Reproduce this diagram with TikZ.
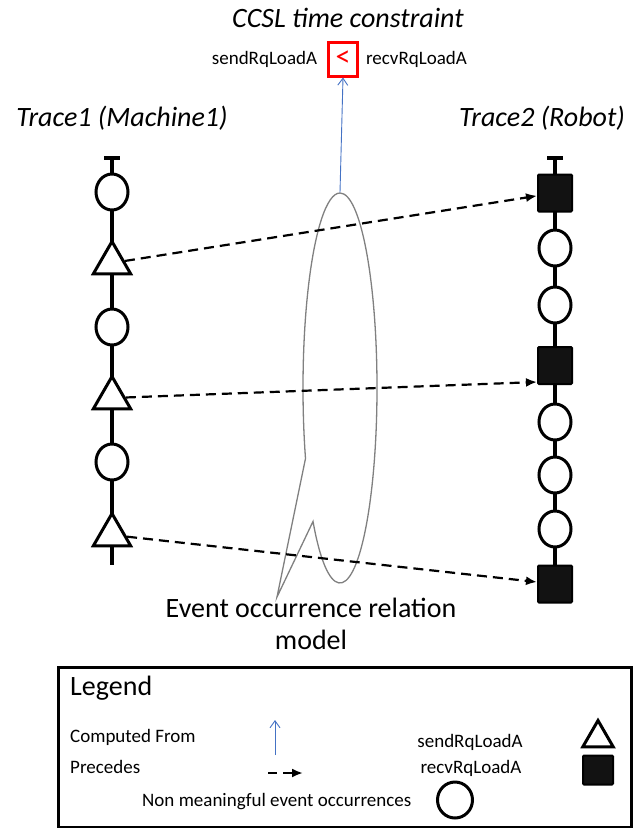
\documentclass[tikz,border=0pt]{standalone}
\usepackage{fontspec}
\setmainfont{Carlito}
\usetikzlibrary{shapes.geometric,shapes.callouts,arrows.meta,calc}
\definecolor{cfblue}{RGB}{68,114,196}
\definecolor{callgray}{RGB}{128,128,128}
\begin{document}
\begin{tikzpicture}[x=1pt,y=-1pt,
  big/.style={font=\fontsize{28}{32}\selectfont, inner sep=0pt},
  bigit/.style={font=\fontsize{28}{32}\selectfont\itshape, inner sep=0pt},
  small/.style={font=\fontsize{19}{22}\selectfont, inner sep=0pt},
  trline/.style={line width=3.5pt},
  trbar/.style={line width=4pt},
  occ/.style={ellipse, draw, line width=3pt, fill=white, minimum width=32pt, minimum height=36pt, inner sep=0pt},
  sendev/.style={regular polygon, regular polygon sides=3, draw, line width=3pt, fill=white, minimum size=43pt, inner sep=0pt},
  recvev/.style={rectangle, draw, line width=2pt, fill=black!93, minimum width=34pt, minimum height=37pt, inner sep=0pt, rounded corners=1pt},
  prec/.style={line width=2.2pt, dash pattern=on 10pt off 6pt, -{Latex[length=11pt,width=9pt]}},
  compfrom/.style={cfblue, line width=0.9pt, -{Straight Barb[length=7pt,width=10pt]}},
]
\useasboundingbox (0,0) rectangle (641,828);

% titles
\node[bigit] (ccsl) at (348,18) {CCSL time constraint};
\node[small] (sendT) at (264.5,59) {sendRqLoadA};
\node[small] (recvT) at (416.5,59) {recvRqLoadA};
\node[draw=red, line width=3pt, minimum width=29pt, minimum height=34pt, inner sep=0pt, text=red, font=\fontsize{30}{30}\selectfont] (cbox) at (343,59) {<};
\node[bigit] (tr1) at (122,118) {Trace1 (Machine1)};
\node[bigit] (tr2) at (542,118) {Trace2 (Robot)};

% left trace
\coordinate (lTop) at (112,158);
\coordinate (lBot) at (112,565);
\draw[trline] (lTop) -- (lBot);
\draw[trbar] ($(lTop)+(-8,0)$) -- ($(lTop)+(8,0)$);
\node[occ] (lc1) at (112,192) {};
\node[sendev] (lt1) at (112,263) {};
\node[occ] (lc2) at (112,327) {};
\node[sendev] (lt2) at (112,398) {};
\node[occ] (lc3) at (112,462) {};
\node[sendev] (lt3) at (112,535) {};

% right trace
\coordinate (rTop) at (555,158);
\coordinate (rBot) at (555,584);
\draw[trline] (rTop) -- (rBot);
\draw[trbar] ($(rTop)+(-8,0)$) -- ($(rTop)+(8,0)$);
\node[recvev] (rs1) at (555,193) {};
\node[occ] (rc1) at (555,248) {};
\node[occ] (rc2) at (555,305) {};
\node[recvev] (rs2) at (555,365.5) {};
\node[occ] (rc3) at (555,422) {};
\node[occ] (rc4) at (555,475) {};
\node[occ] (rc5) at (555,529) {};
\node[recvev] (rs3) at (555,584) {};

% callout
\node[ellipse callout, draw=callgray, line width=1.3pt, minimum width=74pt, minimum height=390pt, inner sep=0pt,
      callout absolute pointer={(277,597)}, callout pointer arc=22] (ell) at (340,388) {};

% precedence arrows
\draw[prec] (lt1) -- (rs1);
\draw[prec] (lt2) -- ($(rs2.south west)+(0,-3)$);
\draw[prec] (lt3) -- (rs3);

% computed-from arrow
\draw[compfrom] (ell.north) -- (cbox.south);

\node[big, align=center] (evt) at (311,624) {Event occurrence relation\\model};

% legend
\node[draw, line width=3pt, minimum width=573pt, minimum height=160pt, inner sep=0pt] (legbox) at (344.5,747) {};
\node[big, anchor=west] (legT) at (70,688) {Legend};
\node[small, anchor=west] (lgcf) at (70,737) {Computed From};
\node[small, anchor=west] (lgpr) at (70,767) {Precedes};
\coordinate (cfA) at (275,755);
\coordinate (cfB) at (275,720);
\draw[compfrom] (cfA) -- (cfB);
\coordinate (prA) at (268,773);
\coordinate (prB) at (303,773);
\draw[line width=2.2pt, dash pattern=on 9pt off 6pt, -{Latex[length=11pt,width=9pt]}] (prA) -- (prB);
\node[small] (lgsend) at (470,742) {sendRqLoadA};
\node[small] (lgrecv) at (471,768) {recvRqLoadA};
\node[sendev, minimum size=35pt] (lgtri) at (598,738) {};
\node[recvev, minimum width=30pt, minimum height=29pt] (lgsq) at (598,770) {};
\node[small, anchor=west] (lgnon) at (142,802) {Non meaningful event occurrences};
\node[occ, minimum width=35pt, minimum height=36pt] (lgocc) at (455,800) {};
\end{tikzpicture}
\end{document}
